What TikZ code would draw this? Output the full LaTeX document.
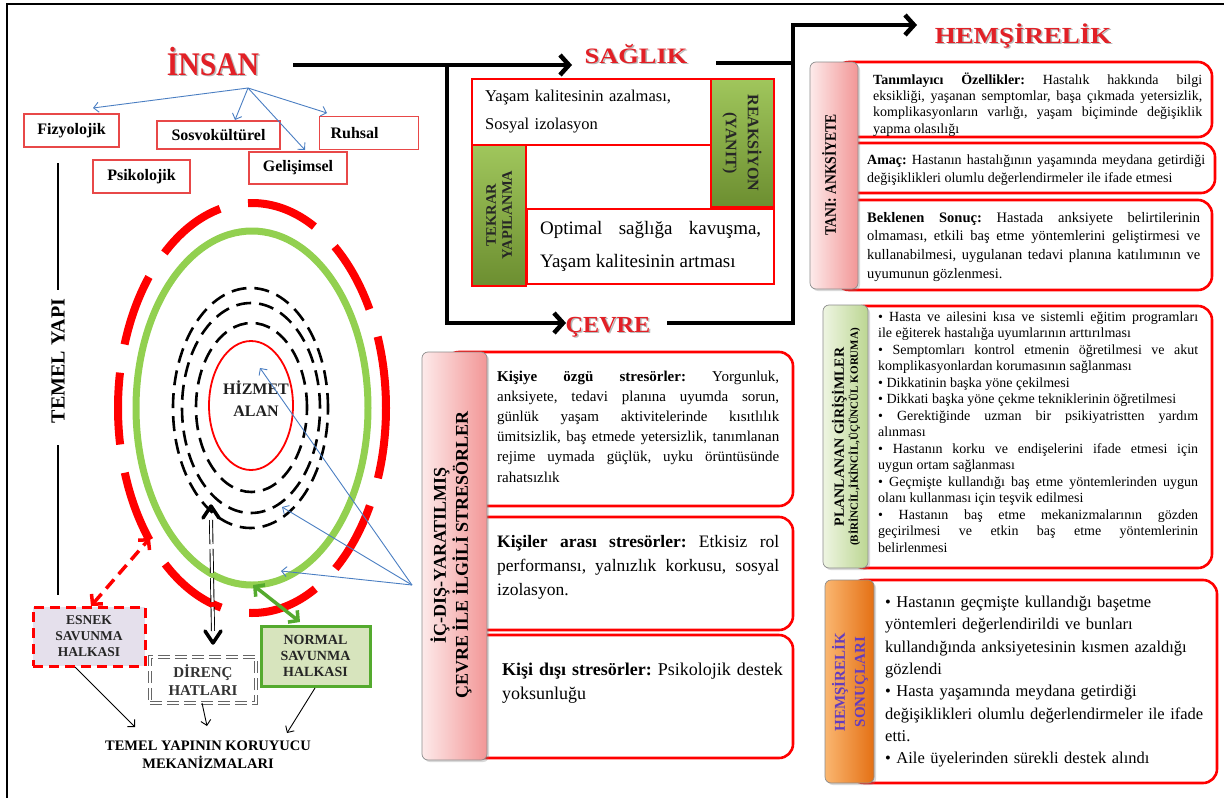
\documentclass[tikz,border=0pt]{standalone}
\usepackage{fontspec}
\setmainfont{Liberation Serif}
\usetikzlibrary{arrows.meta,shadows,calc}
\definecolor{titlered}{RGB}{226,32,38}
\definecolor{boxred}{RGB}{232,72,72}
\definecolor{bluearr}{RGB}{74,126,194}
\definecolor{lgreen}{RGB}{146,208,80}
\definecolor{dgreen}{RGB}{84,170,46}
\definecolor{nfill}{RGB}{215,228,189}
\definecolor{efill}{RGB}{229,224,236}
\definecolor{olive1}{RGB}{160,198,92}
\definecolor{olive2}{RGB}{108,142,48}
\definecolor{pink1}{RGB}{253,234,234}
\definecolor{pink2}{RGB}{242,150,150}
\definecolor{grn1}{RGB}{238,245,226}
\definecolor{grn2}{RGB}{188,214,146}
\definecolor{org1}{RGB}{250,182,112}
\definecolor{org2}{RGB}{228,112,20}
\definecolor{purp}{RGB}{100,60,190}
\newcommand{\myfs}[2]{\fontsize{#1}{#2}\selectfont}
\begin{document}
\frenchspacing
\begin{tikzpicture}[x=1pt,y=-1pt,
  title/.style={text=titlered, inner sep=0pt, anchor=base},
  tshadow/.style={text=black!55, opacity=0.5, inner sep=0pt, anchor=base},
  lbox/.style={draw=boxred, line width=1.3pt, fill=white, font=\bfseries\myfs{16}{19}, minimum height=33pt, inner sep=0pt},
  barrow/.style={draw=bluearr, line width=0.9pt, -{Straight Barb[length=5pt,width=10pt]}},
  bigline/.style={line width=4.5pt, draw=black},
  bigarrow/.style={bigline, -{Straight Barb[length=9pt,width=20pt]}},
  rbox/.style={draw=red, line width=2.6pt, fill=white, rounded corners=14pt},
  tabbox/.style={rounded corners=6pt, draw=black!45, line width=0.7pt, drop shadow={opacity=0.3, shadow xshift=2pt, shadow yshift=-2pt}},
  sbox/.style={draw=red, line width=2pt, fill=white},
  gbox/.style={draw=red, line width=1.5pt, top color=olive1, bottom color=olive2},
  thinarrow/.style={draw=black, line width=0.9pt, -{Straight Barb[length=5pt,width=10pt]}},
  para/.style={anchor=base west, inner sep=0pt, align=justify}
]
\useasboundingbox (0,0) rectangle (1224,798);
\draw[line width=1.2pt] (7,798) -- (7,4) -- (1224,4);

% ---------- titles
\node[tshadow, font=\bfseries\myfs{33}{36}] (insanSh) at (214.5,76.5) {\scalebox{0.9}[1]{İNSAN}};
\node[title, font=\bfseries\myfs{33}{36}] (insan) at (213,75) {\scalebox{0.9}[1]{İNSAN}};
\node[tshadow, font=\bfseries\myfs{22}{26}] (saglikSh) at (637.5,64.5) {\scalebox{1.2}[1]{SAĞLIK}};
\node[title, font=\bfseries\myfs{22}{26}] (saglik) at (636,63) {\scalebox{1.2}[1]{SAĞLIK}};
\node[tshadow, font=\bfseries\myfs{23}{26}] (cevreSh) at (609.5,333.5) {\scalebox{1.05}[1]{ÇEVRE}};
\node[title, font=\bfseries\myfs{23}{26}] (cevre) at (608,332) {\scalebox{1.05}[1]{ÇEVRE}};
\node[tshadow, font=\bfseries\myfs{23}{26}] (hemSh) at (1024.5,44.5) {\scalebox{1.17}[1]{HEMŞİRELİK}};
\node[title, font=\bfseries\myfs{23}{26}] (hem) at (1023,43) {\scalebox{1.17}[1]{HEMŞİRELİK}};

% ---------- main thick connectors
\coordinate (insanR) at (293,65);
\coordinate (j1) at (447,65);
\coordinate (sagIn) at (572,65);
\coordinate (cevIn) at (566,323);
\coordinate (sagOut) at (716,63);
\coordinate (j2) at (793,63);
\coordinate (cevOut) at (667,323);
\coordinate (j3) at (793,25);
\coordinate (hemIn) at (917,25);
\draw[bigline] (insanR) -- (j1);
\draw[bigarrow] (j1) -- (sagIn);
\draw[bigarrow] (j1) |- (cevIn);
\draw[bigline] (sagOut) -- (j2);
\draw[bigarrow] (cevOut) -| (j3) -- (hemIn);

% ---------- left: human dimensions
\node[lbox, minimum width=95pt] (fiz) at (71.5,130.5) {Fizyolojik};
\node[lbox, minimum width=123pt, minimum height=28pt] (sos) at (218.5,135) {Sosvokültürel};
\node[lbox, anchor=north west, text width=77pt, inner xsep=11pt, align=left] (ruh) at (319,116) {Ruhsal};
\node[lbox, minimum width=97pt] (psi) at (141.5,176.5) {Psikolojik};
\node[lbox, minimum width=98pt, minimum height=32pt] (gel) at (298,168) {Gelişimsel};
\coordinate (ib) at (248,88);
\coordinate (tFiz) at (93,108);
\coordinate (tSos) at (235,120);
\coordinate (tGel) at (305,150);
\coordinate (tRuh) at (327,113);
\draw[barrow] (ib) -- (tFiz);
\draw[barrow] (ib) -- (tSos);
\draw[barrow] (ib) -- (tGel);
\draw[barrow] (ib) -- (tRuh);

% ---------- TEMEL YAPI
\node[rotate=90, font=\bfseries\myfs{20}{24}, inner sep=0pt] (temel) at (58,361) {TEMEL YAPI};
\coordinate (ty1) at (58,163); \coordinate (ty2) at (58,290);
\coordinate (ty3) at (58,445); \coordinate (ty4) at (58,595);
\draw[line width=2.5pt] (ty1) -- (ty2);
\draw[line width=2.5pt] (ty3) -- (ty4);

% ---------- rings
\draw[red, line width=8pt, dash pattern=on 72pt off 28.6pt] (252,408) ellipse [x radius=134pt, y radius=205pt];
\draw[lgreen, line width=7pt] (252,408) ellipse [x radius=116pt, y radius=177pt];
\draw[black, line width=2.6pt, dash pattern=on 15pt off 8pt] (250.5,408) ellipse [x radius=77.5pt, y radius=120pt];
\draw[black, line width=2.6pt, dash pattern=on 15pt off 8pt] (251,408) ellipse [x radius=69pt, y radius=105pt];
\draw[black, line width=2.6pt, dash pattern=on 15pt off 8pt] (251.5,407.5) ellipse [x radius=55.5pt, y radius=84.5pt];
\draw[red, line width=1.8pt] (251,405.5) ellipse [x radius=42pt, y radius=64.5pt];
\node[font=\bfseries\myfs{16}{22}, align=center, text=black!88, inner sep=0pt] (hiz) at (256,399) {HİZMET\\ALAN};

% blue pointers from stressor box
\coordinate (bl0) at (412,585);
\coordinate (bl1) at (260,368);
\coordinate (bl2) at (282,507);
\coordinate (bl3) at (281,571);
\draw[barrow] (bl0) -- (bl1);
\draw[barrow] (bl0) -- (bl2);
\draw[barrow] (bl0) -- (bl3);

% ---------- defence boxes
\node[draw=red, line width=3pt, dash pattern=on 10pt off 6pt, fill=efill, minimum width=112pt, minimum height=59pt, inner sep=0pt, align=center, font=\bfseries\myfs{13.5}{16}, text=black!85] (esnek) at (89,636.5) {ESNEK\\SAVUNMA\\HALKASI};
\node[draw=black!60, double=white, double distance=1.6pt, line width=0.8pt, dash pattern=on 12pt off 5pt, fill=white, minimum width=106pt, minimum height=46pt, inner sep=0pt, align=center, font=\bfseries\myfs{15}{18}, text=black!80] (diren) at (203,680) {DİRENÇ\\HATLARI};
\node[draw=dgreen, line width=3pt, fill=nfill, minimum width=109pt, minimum height=60pt, inner sep=0pt, align=center, font=\bfseries\myfs{14}{16}, text=black!85] (normal) at (315.5,656) {NORMAL\\SAVUNMA\\HALKASI};

% red dashed double arrow
\coordinate (ra1) at (150,538);
\coordinate (ra2) at (91,606);
\draw[red, line width=3.5pt, dash pattern=on 12pt off 7pt, {Straight Barb[length=7pt,width=15pt]}-{Straight Barb[length=7pt,width=15pt]}] (ra2) -- (ra1);
% green double arrow
\coordinate (ga1) at (253,585);
\coordinate (ga2) at (300,622);
\draw[dgreen, line width=3.5pt, {Straight Barb[length=7pt,width=15pt]}-{Straight Barb[length=7pt,width=15pt]}] (ga1) -- (ga2);
% black double-line arrow
\coordinate (dTop) at (211,506);
\coordinate (dBot) at (213,643);
\draw[double=white, double distance=2.2pt, line width=0.9pt, dash pattern=on 24pt off 5pt] ($(dTop)+(0,14)$) -- ($(dBot)+(0,-12)$);
\draw[line width=3.5pt, line cap=round, line join=round] ($(dTop)+(-8,12)$) -- (dTop) -- ($(dTop)+(8,12)$);
\draw[line width=3.5pt, line cap=round, line join=round] ($(dBot)+(-8,-12)$) -- (dBot) -- ($(dBot)+(8,-12)$);

% arrows to bottom label
\node[font=\bfseries\myfs{14.5}{18}, align=center, inner sep=0pt] (koru) at (208,755) {TEMEL YAPININ KORUYUCU\\MEKANİZMALARI};
\coordinate (e1) at (75,667); \coordinate (e2) at (135,727);
\coordinate (d1) at (202,703); \coordinate (d2) at (207,726);
\coordinate (n1) at (315,688); \coordinate (n2) at (287,733);
\draw[thinarrow] (e1) -- (e2);
\draw[thinarrow] (d1) -- (d2);
\draw[thinarrow] (n1) -- (n2);

% ---------- SAĞLIK group
\draw[sbox] (472,79) rectangle (711,145);
\draw[gbox] (711,79) rectangle (774,207);
\draw[gbox] (472,145) rectangle (526,286);
\draw[sbox] (527,209) rectangle (774,284);
\node[para, text width=220pt, align=left, font=\myfs{16.5}{28}] (saglik1) at (485,101.5) {Yaşam kalitesinin azalması,\\Sosyal izolasyon};
\node[para, text width=221pt, font=\myfs{19}{33}] (saglik2) at (540,234) {Optimal sağlığa kavuşma,\linebreak Yaşam kalitesinin artması};
\node[rotate=-90, align=center, font=\bfseries\myfs{16}{22}, text=black!85, inner sep=0pt] (reak) at (742,143) {REAKSİYON\\(YANIT)};
\node[rotate=90, align=center, font=\bfseries\myfs{14.5}{16}, text=black!85, inner sep=0pt] (tekrar) at (499,215) {TEKRAR\\YAPILANMA};

% ---------- stressors group
\draw[rbox] (445,352) rectangle (793,506);
\draw[rbox] (445,517) rectangle (793,630);
\draw[rbox] (445,635) rectangle (793,758);
\draw[tabbox, left color=pink1, right color=pink2] (422,352) rectangle (487,760);
\node[rotate=90, align=center, font=\bfseries\myfs{18}{22}, inner sep=0pt] (strtab) at (451,555) {İÇ-DIŞ-YARATILMIŞ\\ÇEVRE İLE İLGİLİ STRESÖRLER};
\node[para, text width=282pt, font=\myfs{15}{20.2}] (k1) at (497,381) {\textbf{Kişiye özgü stresörler:} Yorgunluk,\linebreak anksiyete, tedavi planına uyumda sorun,\linebreak günlük yaşam aktivitelerinde kısıtlılık\linebreak ümitsizlik, baş etmede yetersizlik, tanımlanan\linebreak rejime uymada güçlük, uyku örüntüsünde\linebreak rahatsızlık};
\node[para, text width=282pt, font=\myfs{17.5}{24}] (k2) at (497,547) {\textbf{Kişiler arası stresörler:} Etkisiz rol\linebreak performansı, yalnızlık korkusu, sosyal\linebreak izolasyon.};
\node[para, text width=290pt, align=left, font=\myfs{18}{24}] (k3) at (502,675) {\textbf{Kişi dışı stresörler:} Psikolojik destek\\yoksunluğu};

% ---------- TANI group
\draw[rbox] (835,62) rectangle (1212,137);
\draw[rbox] (835,143) rectangle (1215,193);
\draw[rbox] (835,200) rectangle (1212,290);
\draw[tabbox, left color=pink1, right color=pink2] (810,62) rectangle (858,289);
\node[rotate=90, font=\bfseries\myfs{16}{20}, inner sep=0pt] (tanitab) at (829,175) {\scalebox{0.85}[1]{TANI: ANKSİYETE}};
\node[para, text width=329pt, font=\myfs{14}{16.4}] (t1) at (873,84) {\textbf{Tanımlayıcı Özellikler:} Hastalık hakkında bilgi\linebreak eksikliği, yaşanan semptomlar, başa çıkmada yetersizlik,\linebreak komplikasyonların varlığı, yaşam biçiminde değişiklik\linebreak yapma olasılığı};
\node[para, text width=338pt, font=\myfs{14}{18}] (t2) at (867,164) {\textbf{Amaç:} Hastanın hastalığının yaşamında meydana getirdiği\linebreak değişiklikleri olumlu değerlendirmeler ile ifade etmesi};
\node[para, text width=333pt, font=\myfs{14.5}{18.7}] (t3) at (867,222) {\textbf{Beklenen Sonuç:} Hastada anksiyete belirtilerinin\linebreak olmaması, etkili baş etme yöntemlerini geliştirmesi ve\linebreak kullanabilmesi, uygulanan tedavi planına katılımının ve\linebreak uyumunun gözlenmesi.};

% ---------- PLANLANAN group
\draw[rbox] (850,306) rectangle (1212,568);
\draw[tabbox, left color=grn1, right color=grn2] (823,305) rectangle (868,568);
\node[rotate=90, align=center, font=\bfseries\myfs{14}{14}, inner sep=0pt] (plantab) at (846,437) {PLANLANAN GİRİŞİMLER\\{\myfs{11}{13}(BİRİNCİL,İKİNCİL,ÜÇÜNCÜL KORUMA)}};
\node[para, text width=320pt, font=\myfs{14}{16.5}] (plan) at (878,321) {%
• Hasta ve ailesini kısa ve sistemli eğitim programları\linebreak ile eğiterek hastalığa uyumlarının arttırılması\par
• Semptomları kontrol etmenin öğretilmesi ve akut\linebreak komplikasyonlardan korumasının sağlanması\par
• Dikkatinin başka yöne çekilmesi\par
• Dikkati başka yöne çekme tekniklerinin öğretilmesi\par
• Gerektiğinde uzman bir psikiyatristten yardım\linebreak alınması\par
• Hastanın korku ve endişelerini ifade etmesi için\linebreak uygun ortam sağlanması\par
• Geçmişte kullandığı baş etme yöntemlerinden uygun\linebreak olanı kullanması için teşvik edilmesi\par
• Hastanın baş etme mekanizmalarının gözden\linebreak geçirilmesi ve etkin baş etme yöntemlerinin\linebreak belirlenmesi};

% ---------- SONUÇLAR group
\draw[rbox] (850,580) rectangle (1217,783);
\draw[tabbox, left color=org1, right color=org2] (825,580) rectangle (874,783);
\node[rotate=90, align=center, font=\bfseries\myfs{15}{20}, text=purp, inner sep=0pt] (sontab) at (850,682) {HEMŞİRELİK\\SONUÇLARI};
\node[para, text width=330pt, align=left, font=\myfs{16.5}{22.3}] (son) at (885,607.5) {• Hastanın geçmişte kullandığı başetme\\yöntemleri değerlendirildi ve bunları\\kullandığında anksiyetesinin kısmen azaldığı\\gözlendi\\• Hasta yaşamında meydana getirdiği\\değişiklikleri olumlu değerlendirmeler ile ifade\\etti.\\• Aile üyelerinden sürekli destek alındı};
\end{tikzpicture}
\end{document}
